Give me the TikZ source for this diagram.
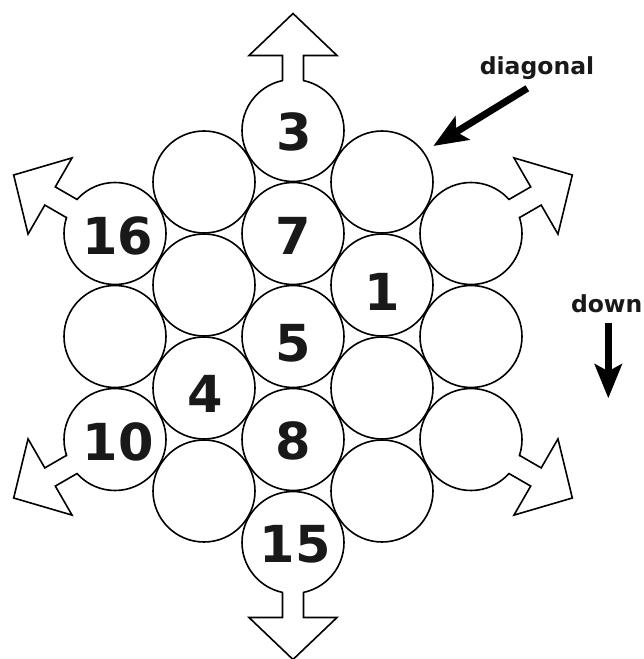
\documentclass[tikz,border=0pt]{standalone}
\usepackage{fontspec}
\setmainfont{DejaVu Sans}
\usetikzlibrary{arrows.meta}
\begin{document}
\begin{tikzpicture}[x=1pt,y=1pt,
  ball/.style={circle, draw, line width=1.6pt, minimum size=102pt, inner sep=0pt, fill=white},
  num/.style={font=\fontsize{51}{51}\selectfont\bfseries, inner sep=0pt, text=black!90},
  lbl/.style={font=\fontsize{23.5}{24}\selectfont\bfseries, inner sep=0pt, anchor=base, text=black!90},
  outline/.style={line width=1.6pt, line join=miter},
  pointer/.style={line width=7pt, -{Stealth[length=34pt,width=27pt,inset=7pt]}}]
\useasboundingbox (0,0) rectangle (643,659);
% centre column
\node[ball] (c3)  at (293,528.5) {};
\node[ball] (c7)  at (293,425.5) {};
\node[ball] (c5)  at (293,322.5) {};
\node[ball] (c8)  at (293,219.5) {};
\node[ball] (c15) at (293,116.5) {};
% inner left column
\node[ball] (a1) at (204,477) {};
\node[ball] (a2) at (204,374) {};
\node[ball] (c4) at (204,271) {};
\node[ball] (a3) at (204,168) {};
% inner right column
\node[ball] (b1) at (382,477) {};
\node[ball] (c1) at (382,374) {};
\node[ball] (b2) at (382,271) {};
\node[ball] (b3) at (382,168) {};
% outer left column
\node[ball] (c16) at (115,425.5) {};
\node[ball] (l2)  at (115,322.5) {};
\node[ball] (c10) at (115,219.5) {};
% outer right column
\node[ball] (r1) at (471,425.5) {};
\node[ball] (r2) at (471,322.5) {};
\node[ball] (r3) at (471,219.5) {};
% open arrows
\foreach \n/\a in {c3/90,c15/270,c16/150,c10/210,r1/30,r3/330}{
  \begin{scope}[shift={(\n)}, rotate=\a]
    \fill[white] (44,-9.6) rectangle (58,9.6);
    \draw[outline] (49.9,10.5) -- (75,10.5) -- (75,44) -- (117,0) -- (75,-44) -- (75,-10.5) -- (49.9,-10.5);
  \end{scope}
}
% numbers
\node[num] (t3)  at (294,527)   {3};
\node[num] (t7)  at (293.5,423) {7};
\node[num] (t5)  at (293,316)   {5};
\node[num] (t8)  at (293,218)   {8};
\node[num] (t15) at (295,115)   {15};
\node[num] (t1)  at (382,367)   {1};
\node[num] (t4)  at (205,265.5) {4};
\node[num] (t16) at (117.5,423.5) {16};
\node[num] (t10) at (118,217.3) {10};
% side labels
\node[lbl] (diag) at (537,584) {diagonal};
\node[lbl] (down) at (606.7,346) {down};
\coordinate (dgtail) at (527.3,570.7);
\coordinate (dgtip)  at (433.3,513);
\coordinate (dntail) at (608.3,335.7);
\coordinate (dntip)  at (608.3,260.7);
\draw[pointer] (dgtail) -- (dgtip);
\draw[pointer] (dntail) -- (dntip);
\end{tikzpicture}
\end{document}
